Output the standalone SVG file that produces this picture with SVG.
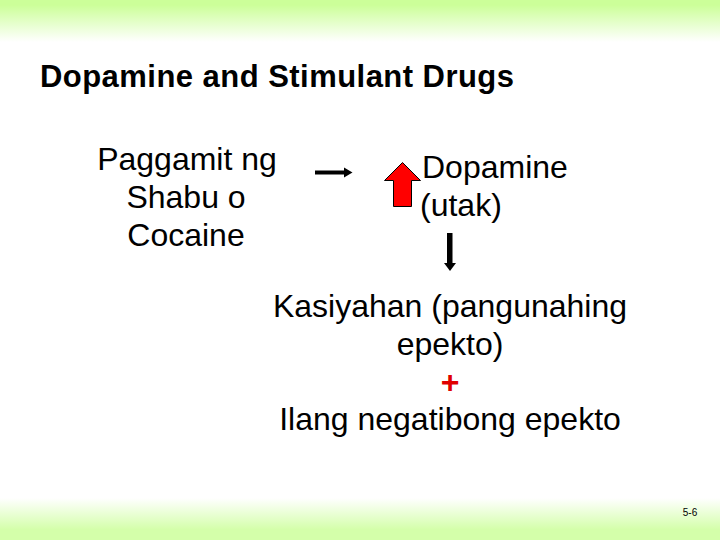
<svg xmlns="http://www.w3.org/2000/svg" width="720" height="540" viewBox="0 0 720 540">
  <defs>
    <linearGradient id="topG" x1="0" y1="0" x2="0" y2="1">
      <stop offset="0" stop-color="#ccff99"/>
      <stop offset="0.12" stop-color="#ccff99"/>
      <stop offset="1" stop-color="#ffffff"/>
    </linearGradient>
    <linearGradient id="botG" x1="0" y1="0" x2="0" y2="1">
      <stop offset="0" stop-color="#ffffff"/>
      <stop offset="0.75" stop-color="#d4ffaa"/>
      <stop offset="1" stop-color="#d4ffaa"/>
    </linearGradient>
    <style>
      .t { font-family: "Liberation Sans", Arial, sans-serif; font-size: 32px; fill: #000; }
      .title { font-family: "Liberation Sans", Arial, sans-serif; font-size: 31px; font-weight: bold; fill: #000; }
      .c { text-anchor: middle; }
      .plus { fill: #e00000; font-weight: bold; }
      .pg { font-family: "Liberation Sans", Arial, sans-serif; font-size: 10px; fill: #000; }
    </style>
  </defs>
  <rect width="720" height="540" fill="#ffffff"/>
  <rect x="0" y="0" width="720" height="42" fill="url(#topG)"/>
  <rect x="0" y="498" width="720" height="42" fill="url(#botG)"/>

  <g id="title">
    <text class="title" x="40" y="87" textLength="474" lengthAdjust="spacing">Dopamine and Stimulant Drugs</text>
  </g>

  <g id="node-drug">
    <text class="t c" x="187" y="170">Paggamit ng</text>
    <text class="t c" x="186" y="208">Shabu o</text>
    <text class="t c" x="186" y="246">Cocaine</text>
  </g>

  <g id="node-dopamine">
    <polygon points="402.5,162.5 420.5,180.5 411.5,180.5 411.5,206.5 393.5,206.5 393.5,180.5 384.5,180.5" fill="#ff0000" stroke="#000" stroke-width="1"/>
    <text class="t" x="422" y="178">Dopamine</text>
    <text class="t" x="420" y="216">(utak)</text>
  </g>

  <g id="node-effects">
    <text class="t c" x="450" y="317">Kasiyahan (pangunahing</text>
    <text class="t c" x="450" y="355">epekto)</text>
    <text class="t c plus" x="450" y="393">+</text>
    <text class="t c" x="450" y="430">Ilang negatibong epekto</text>
  </g>

  <g id="connectors">
    <line x1="315" y1="172.5" x2="346" y2="172.5" stroke="#000" stroke-width="4"/>
    <polygon points="344,167.5 352.5,172.5 344,177.5" fill="#000"/>
    <rect x="447" y="233" width="5.5" height="31" fill="#000"/>
    <polygon points="444,263 456,263 450,271" fill="#000"/>
  </g>

  <g id="page-number">
    <text class="pg" x="690" y="516" text-anchor="middle">5-6</text>
  </g>
</svg>
